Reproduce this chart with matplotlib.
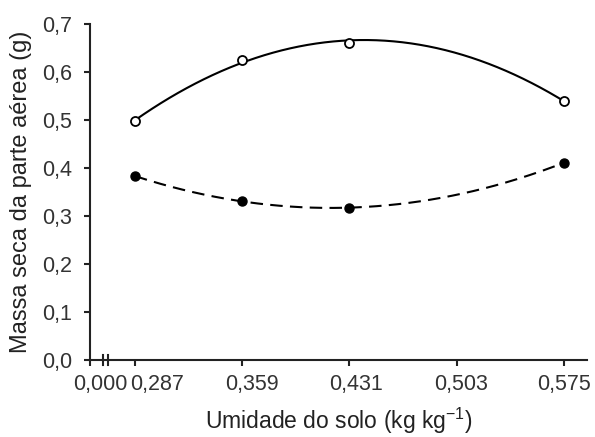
import numpy as np
import matplotlib
matplotlib.use("Agg")
import matplotlib.pyplot as plt
import matplotlib.transforms as mtransforms

# ---------------- DATA ---------------- #
umidade = [0.287, 0.359, 0.431, 0.575]
massa_aberto = [0.497, 0.626, 0.661, 0.540]   # open circles, solid fit
massa_cheio = [0.383, 0.331, 0.317, 0.411]    # filled circles, dashed fit

tick_vals = [0.287, 0.359, 0.431, 0.503, 0.575]
tick_labels = ["0,000", "0,287", "0,359", "0,431", "0,503", "0,575"]
y_ticks = [0.0, 0.1, 0.2, 0.3, 0.4, 0.5, 0.6, 0.7]

# ---------------- SETUP ---------------- #
plt.rcParams["font.family"] = ["Liberation Sans", "DejaVu Sans"]
plt.rcParams["mathtext.fontset"] = "custom"
plt.rcParams["mathtext.rm"] = "Liberation Sans"
plt.rcParams["mathtext.it"] = "Liberation Sans"

fig = plt.figure(figsize=(5.95, 4.37), dpi=100)
ax = fig.add_axes([90 / 595, 1 - 360 / 437, 497 / 595, 336 / 437])

# broken axis: left edge stands for 0,000
step = tick_vals[1] - tick_vals[0]
x_left = tick_vals[0] - step * 45 / 107.3
x_right = tick_vals[-1] + step * 23 / 107.3

# quadratic fits
xx = np.linspace(umidade[0], umidade[-1], 200)
c1 = np.polyfit(umidade, massa_aberto, 2)
c2 = np.polyfit(umidade, massa_cheio, 2)
ax.plot(xx, np.polyval(c1, xx), color="black", lw=1.5, solid_capstyle="round")
ax.plot(xx, np.polyval(c2, xx), color="black", lw=1.5, dashes=(6, 3.5))

ax.plot(umidade, massa_aberto, "o", ms=6.5, mfc="white", mec="black", mew=1.3)
ax.plot(umidade, massa_cheio, "o", ms=6.5, mfc="black", mec="black")

ax.set_xlim(x_left, x_right)
ax.set_ylim(0, 0.7)
ax.set_xticks([x_left] + tick_vals)
ax.set_xticklabels(tick_labels)
ax.set_yticks(y_ticks)
ax.set_yticklabels([f"{v:.1f}".replace(".", ",") for v in y_ticks])

for s in ["top", "right"]:
    ax.spines[s].set_visible(False)
for s in ["left", "bottom"]:
    ax.spines[s].set_linewidth(1.5)
    ax.spines[s].set_color("#222222")

ax.tick_params(axis="both", direction="out", length=4, width=1.5,
               colors="#222222", labelsize=15.5, labelcolor="#333333")
ax.tick_params(axis="x", pad=6)
ax.tick_params(axis="y", pad=9)

# shift x tick labels a little as in the original
shifts = [10, 22, 10, 7, 4, 0]
for lab, dx in zip(ax.get_xticklabels(), shifts):
    lab.set_transform(lab.get_transform() +
                      mtransforms.ScaledTranslation(dx / 100, 0, fig.dpi_scale_trans))

# axis break marks
for xb in [103 / 595, 108 / 595]:
    fig.add_artist(plt.Line2D([xb, xb], [1 - 365 / 437, 1 - 355 / 437],
                              color="#222222", lw=1.5))

ax.set_ylabel("Massa seca da parte aérea (g)", fontsize=17, color="#222222", labelpad=7)
ax.set_xlabel("Umidade do solo (kg kg$^{\\mathregular{-1}}$)", fontsize=16.5,
              color="#222222", labelpad=8)

plt.savefig("out.png", dpi=100)
plt.close()
